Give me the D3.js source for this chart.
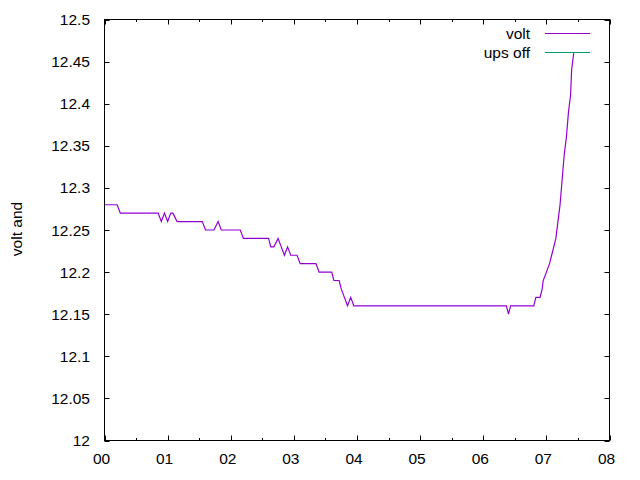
<!DOCTYPE html>
<html lang="en">
<head>
<meta charset="UTF-8">
<script src="https://d3js.org/d3.v7.min.js"></script>
<style>
    body { margin: 0; background: #fff; }
    text { font-family: "Liberation Sans", Arial, sans-serif; font-size: 15.5px; fill: #000; }
</style>
</head>
<body>
<div id="chart"></div>
<script>
    // minutes since 00:00 and volt readings
    const minutes = [0, 12, 15, 51, 54, 57, 60, 63, 65, 69, 93, 96, 104, 108, 111, 129, 132,
        156, 158, 161, 165, 168, 171, 174, 177, 183, 186, 201, 204, 216, 218, 223, 225, 228,
        231, 234, 237, 382, 384, 386, 408, 410, 414, 416, 417, 420, 423, 425, 427, 429, 431,
        433, 435, 437, 439, 441, 443, 444, 446]
    const volt = [12.28, 12.28, 12.27, 12.27, 12.26, 12.27, 12.26, 12.27, 12.27, 12.26, 12.26,
        12.25, 12.25, 12.26, 12.25, 12.25, 12.24, 12.24, 12.23, 12.23, 12.24, 12.23, 12.22,
        12.23, 12.22, 12.22, 12.21, 12.21, 12.20, 12.20, 12.19, 12.19, 12.18, 12.17, 12.16,
        12.17, 12.16, 12.16, 12.15, 12.16, 12.16, 12.17, 12.17, 12.18, 12.19, 12.20, 12.21,
        12.22, 12.23, 12.24, 12.26, 12.28, 12.31, 12.34, 12.36, 12.39, 12.41, 12.44, 12.46]
    const upsOff = []   // no points in view, legend only
    const yTicks = [12, 12.05, 12.1, 12.15, 12.2, 12.25, 12.3, 12.35, 12.4, 12.45, 12.5]
    const xTickHours = [0, 1, 2, 3, 4, 5, 6, 7, 8]

    const width = 640, height = 480
    const pLeft = 104.5, pRight = 609.5, pTop = 19.5, pBottom = 440.5

    const svg = d3.select('#chart').append('svg')
        .attr('width', width)
        .attr('height', height)

    const day = new Date(2000, 0, 1)
    const x = d3.scaleTime()
        .domain([day, d3.timeHour.offset(day, 8)])
        .range([pLeft, pRight])
    const y = d3.scaleLinear()
        .domain([12, 12.5])
        .range([pBottom, pTop])

    const xMajor = xTickHours.map(h => d3.timeHour.offset(day, h))
    const xMinor = xTickHours.slice(0, -1).map(h => d3.timeMinute.offset(day, h * 60 + 30))
    const fmt = d3.timeFormat('%H')

    // ticks (mirrored on all sides, pointing inward)
    const ticks = svg.append('g').attr('stroke', '#000').attr('stroke-width', 1)
    xMajor.forEach(d => {
        const px = Math.round(x(d)) + 0.5
        ticks.append('line').attr('x1', px).attr('x2', px).attr('y1', pBottom).attr('y2', pBottom - 5)
        ticks.append('line').attr('x1', px).attr('x2', px).attr('y1', pTop).attr('y2', pTop + 5)
    })
    xMinor.forEach(d => {
        const px = Math.round(x(d)) + 0.5
        ticks.append('line').attr('x1', px).attr('x2', px).attr('y1', pBottom).attr('y2', pBottom - 2.5)
        ticks.append('line').attr('x1', px).attr('x2', px).attr('y1', pTop).attr('y2', pTop + 2.5)
    })
    yTicks.forEach(v => {
        const py = Math.round(y(v)) + 0.5
        ticks.append('line').attr('x1', pLeft).attr('x2', pLeft + 5).attr('y1', py).attr('y2', py)
        ticks.append('line').attr('x1', pRight).attr('x2', pRight - 5).attr('y1', py).attr('y2', py)
    })

    // labels
    svg.append('g').selectAll('text')
        .data(yTicks)
        .enter().append('text')
        .attr('x', pLeft - 14.5)
        .attr('y', d => y(d))
        .attr('dy', '0.36em')
        .attr('text-anchor', 'end')
        .text(d => d3.format('')(d))

    svg.append('g').selectAll('text')
        .data(xMajor)
        .enter().append('text')
        .attr('x', d => x(d) - 3)
        .attr('y', 464)
        .attr('text-anchor', 'middle')
        .text(d => fmt(d))

    svg.append('text')
        .attr('transform', 'translate(22,229) rotate(-90)')
        .attr('text-anchor', 'middle')
        .text('volt and')

    // data line
    const pts = minutes.map((m, i) => ({ t: d3.timeMinute.offset(day, m), v: volt[i] }))
    const line = d3.line().x(d => x(d.t)).y(d => y(d.v))
    svg.append('path')
        .datum(pts)
        .attr('d', line)
        .attr('fill', 'none')
        .attr('stroke', '#9400d3')
        .attr('stroke-width', 1.2)

    svg.append('path')
        .datum(upsOff)
        .attr('d', line)
        .attr('fill', 'none')
        .attr('stroke', '#009e73')

    // legend
    const legend = [{ name: 'volt', color: '#9400d3', yy: 33.5 }, { name: 'ups off', color: '#009e73', yy: 52.5 }]
    legend.forEach(l => {
        svg.append('text')
            .attr('x', 530)
            .attr('y', l.yy)
            .attr('dy', '0.36em')
            .attr('text-anchor', 'end')
            .text(l.name)
        svg.append('line')
            .attr('x1', 545).attr('x2', 590)
            .attr('y1', l.yy).attr('y2', l.yy)
            .attr('stroke', l.color)
            .attr('stroke-width', 1.2)
    })

    // border
    svg.append('rect')
        .attr('x', pLeft).attr('y', pTop)
        .attr('width', pRight - pLeft).attr('height', pBottom - pTop)
        .attr('fill', 'none')
        .attr('stroke', '#000')
        .attr('stroke-width', 1)
</script>
</body>
</html>
